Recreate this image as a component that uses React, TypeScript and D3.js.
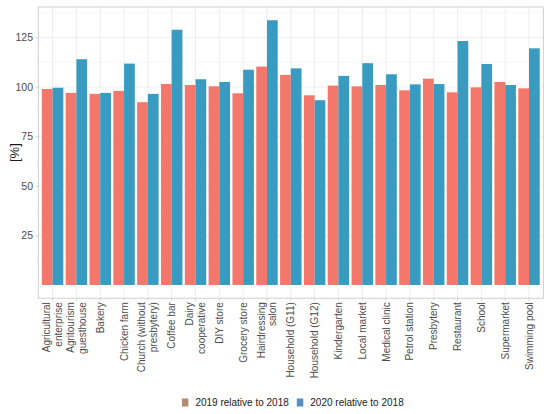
import { axisLeft, scaleBand, scaleLinear, select } from 'd3'
import { useEffect, useRef } from 'react'

const categories = [
  'Agricultural\nenterprise',
  'Agritourism\nguesthouse',
  'Bakery',
  'Chicken farm',
  'Church (without\npresbytery)',
  'Coffee bar',
  'Dairy\ncooperative',
  'DIY store',
  'Grocery store',
  'Hairdressing\nsalon',
  'Household (G11)',
  'Household (G12)',
  'Kindergarten',
  'Local market',
  'Medical clinic',
  'Petrol station',
  'Presbytery',
  'Restaurant',
  'School',
  'Supermarket',
  'Swimming pool',
]

const values2019 = [99, 97, 96.5, 98, 92.3, 101.5, 101, 100.3, 96.8, 110.3, 106.1, 95.8, 100.7, 100.3, 101, 98.3, 104.2, 97.3, 99.8, 102.5, 99.3]
const values2020 = [99.6, 114, 97, 111.8, 96.5, 128.9, 103.9, 102.5, 108.7, 133.7, 109.4, 93.3, 105.6, 112, 106.4, 101.3, 101.5, 123.2, 111.6, 101, 119.5]

const seriesNames = ['2019 relative to 2018', '2020 relative to 2018']
const barColors = ['#f4776b', '#389bbf']
const keyColors = ['#b38a72', '#5a8ebf']

const yTicks = [25, 50, 75, 100, 125]
const yMinor = [12.5, 37.5, 62.5, 87.5, 112.5, 137.5]

const W = 550
const H = 414
const FONT = '"Liberation Sans", Arial, Helvetica, sans-serif'

export default function App() {
  const ref = useRef<SVGSVGElement>(null)

  useEffect(() => {
    if (!ref.current) return
    const svg = select(ref.current)
    svg.selectAll('*').remove()

    const panel = { left: 38.3, right: 543.3, top: 7, bottom: 298.2 }
    const maxVal = Math.max(...values2019, ...values2020)
    const pad = maxVal * 0.05

    const x = scaleBand<string>()
      .domain(categories)
      .range([panel.left, panel.right])
      .paddingInner(0.1)
      .paddingOuter(0.15)
    const sub = scaleBand<number>().domain([0, 1]).range([0, x.bandwidth()])
    const y = scaleLinear()
      .domain([-pad, maxVal + pad])
      .range([panel.bottom, panel.top])

    // panel background + grid
    svg
      .append('rect')
      .attr('x', panel.left)
      .attr('y', panel.top)
      .attr('width', panel.right - panel.left)
      .attr('height', panel.bottom - panel.top)
      .attr('fill', 'white')

    const grid = svg.append('g')
    grid
      .selectAll('line.minor')
      .data(yMinor)
      .join('line')
      .attr('x1', panel.left)
      .attr('x2', panel.right)
      .attr('y1', (d) => y(d))
      .attr('y2', (d) => y(d))
      .attr('stroke', '#ececec')
      .attr('stroke-width', 0.4)
    grid
      .selectAll('line.major')
      .data(yTicks)
      .join('line')
      .attr('x1', panel.left)
      .attr('x2', panel.right)
      .attr('y1', (d) => y(d))
      .attr('y2', (d) => y(d))
      .attr('stroke', '#e2e2e2')
      .attr('stroke-width', 0.6)
    grid
      .selectAll('line.vert')
      .data(categories)
      .join('line')
      .attr('x1', (d) => (x(d) ?? 0) + x.bandwidth() / 2)
      .attr('x2', (d) => (x(d) ?? 0) + x.bandwidth() / 2)
      .attr('y1', panel.top)
      .attr('y2', panel.bottom)
      .attr('stroke', '#e2e2e2')
      .attr('stroke-width', 0.6)

    // bars
    const series = [values2019, values2020]
    series.forEach((vals, si) => {
      svg
        .append('g')
        .selectAll('rect')
        .data(vals)
        .join('rect')
        .attr('x', (_, i) => (x(categories[i]) ?? 0) + (sub(si) ?? 0))
        .attr('y', (d) => y(d))
        .attr('width', sub.bandwidth())
        .attr('height', (d) => y(0) - y(d))
        .attr('fill', barColors[si])
    })

    // panel border
    svg
      .append('rect')
      .attr('x', panel.left)
      .attr('y', panel.top)
      .attr('width', panel.right - panel.left)
      .attr('height', panel.bottom - panel.top)
      .attr('fill', 'none')
      .attr('stroke', '#c4c4c4')
      .attr('stroke-width', 0.8)

    // y axis
    const yAxis = svg
      .append('g')
      .attr('transform', `translate(${panel.left},0)`)
      .call(axisLeft(y).tickValues(yTicks).tickSize(2.75).tickPadding(2.5))
    yAxis.select('.domain').remove()
    yAxis.selectAll('line').attr('stroke', '#b3b3b3').attr('stroke-width', 0.5)
    yAxis
      .selectAll('text')
      .attr('fill', '#4d4d4d')
      .style('font-family', FONT)
      .style('font-size', '10.5px')

    svg
      .append('text')
      .attr('transform', `translate(14,${(panel.top + panel.bottom) / 2}) rotate(-90)`)
      .attr('text-anchor', 'middle')
      .attr('dominant-baseline', 'central')
      .style('font-family', FONT)
      .style('font-size', '13px')
      .attr('fill', '#1a1a1a')
      .text('[%]')

    // x ticks and labels
    const xAxis = svg.append('g')
    xAxis
      .selectAll('line')
      .data(categories)
      .join('line')
      .attr('x1', (d) => (x(d) ?? 0) + x.bandwidth() / 2)
      .attr('x2', (d) => (x(d) ?? 0) + x.bandwidth() / 2)
      .attr('y1', panel.bottom)
      .attr('y2', panel.bottom + 2.75)
      .attr('stroke', '#b3b3b3')
      .attr('stroke-width', 0.5)

    const lineGap = 11.8
    xAxis
      .selectAll('text')
      .data(categories)
      .join('text')
      .attr('transform', (d) => `translate(${(x(d) ?? 0) + x.bandwidth() / 2},${panel.bottom + 4}) rotate(-90)`)
      .attr('text-anchor', 'end')
      .attr('fill', '#4d4d4d')
      .style('font-family', FONT)
      .style('font-size', '10px')
      .each(function (d) {
        const lines = d.split('\n')
        const t = select(this)
        lines.forEach((ln, i) => {
          t.append('tspan')
            .attr('x', 0)
            .attr('y', (i - (lines.length - 1) / 2) * lineGap)
            .attr('dominant-baseline', 'central')
            .text(ln)
        })
      })

    // legend
    const legend = svg.append('g')
    const keySize = 8
    const keyGap = 5.5
    const itemGap = 8
    let cursor = 0
    seriesNames.forEach((name, i) => {
      const item = legend.append('g').attr('transform', `translate(${cursor},0)`)
      item
        .append('rect')
        .attr('x', 0)
        .attr('y', -keySize / 2)
        .attr('width', keySize - 1.5)
        .attr('height', keySize)
        .attr('fill', keyColors[i])
      const txt = item
        .append('text')
        .attr('x', keySize + keyGap)
        .attr('y', 0)
        .attr('dominant-baseline', 'central')
        .attr('fill', '#1a1a1a')
        .style('font-family', FONT)
        .style('font-size', '10px')
        .text(name)
      const len = (txt.node() as SVGTextElement).getComputedTextLength()
      cursor += keySize + keyGap + len + itemGap
    })
    const legendWidth = cursor - itemGap
    legend.attr('transform', `translate(${(panel.left + panel.right) / 2 - legendWidth / 2 + 2},402.5)`)
  }, [])

  return (
    <svg
      ref={ref}
      width={W}
      height={H}
      style={{ position: 'absolute', left: 0, top: 0, background: 'white' }}
    />
  )
}
